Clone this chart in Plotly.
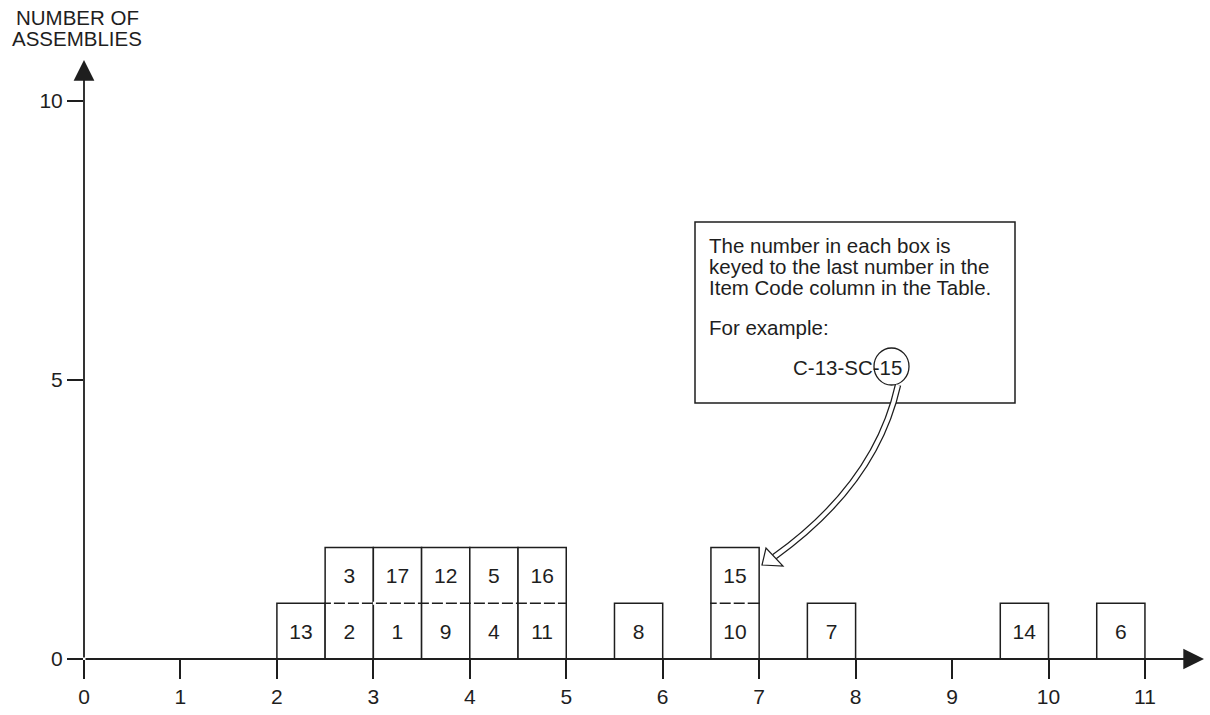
import plotly.graph_objects as go

# boxes: centre on x axis (each box is half a unit wide, one assembly tall)
lower_x = [2.25, 2.75, 3.25, 3.75, 4.25, 4.75, 5.75, 6.75, 7.75, 9.75, 10.75]
lower_labels = ['13', '2', '1', '9', '4', '11', '8', '10', '7', '14', '6']
upper_x = [2.75, 3.25, 3.75, 4.25, 4.75, 6.75]
upper_labels = ['3', '17', '12', '5', '16', '15']

x_ticks = list(range(0, 12))
y_ticks = [0, 5, 10]

note_lines = ['The number in each box is',
              'keyed to the last number in the',
              'Item Code column in the Table.',
              'For example:']

FONT = 'Liberation Sans, Arial, sans-serif'
INK = '#1e1e1e'
FS = 21

# layout geometry (pixels)
W, H = 1210, 715
ML, MR, MT, MB = 84, 6, 59, 56
XS = 96.45   # px per x unit
YS = 55.8    # px per y unit
X0 = ML
Y0 = H - MB
XMAX = (W - ML - MR) / XS
YMAX = (H - MT - MB) / YS


def dx(p):
    return (p - X0) / XS


def dy(p):
    return (Y0 - p) / YS


def paper_x(p):
    return (p - ML) / (W - ML - MR)


def paper_y(p):
    return (Y0 - p) / (H - MT - MB)


fig = go.Figure()
fig.add_trace(go.Bar(x=lower_x, y=[1] * len(lower_x), base=0, width=0.5,
                     text=lower_labels, textposition='inside', insidetextanchor='middle',
                     textangle=0, textfont=dict(size=FS, color=INK, family=FONT),
                     marker=dict(color='white', line=dict(color=INK, width=1.5)),
                     hoverinfo='skip'))
fig.add_trace(go.Bar(x=upper_x, y=[1] * len(upper_x), base=1, width=0.5,
                     text=upper_labels, textposition='inside', insidetextanchor='middle',
                     textangle=0, textfont=dict(size=FS, color=INK, family=FONT),
                     marker=dict(color='white', line=dict(color=INK, width=1.5)),
                     hoverinfo='skip'))

shapes = []
# dashed look of the shared edge between stacked boxes
for a, b in [(2.5, 5.0), (6.5, 7.0)]:
    shapes.append(dict(type='line', xref='x', yref='y', x0=a + 0.06, x1=b - 0.03, y0=1, y1=1,
                       line=dict(color='white', width=3, dash='3px,11px')))

# note box
shapes.append(dict(type='rect', xref='x', yref='y', x0=dx(695), x1=dx(1015), y0=dy(403), y1=dy(222),
                   line=dict(color=INK, width=1.5), fillcolor='rgba(0,0,0,0)'))
# circle around 15
shapes.append(dict(type='circle', xref='x', yref='y', x0=dx(874), x1=dx(909), y0=dy(385), y1=dy(348),
                   line=dict(color=INK, width=1.3)))

# hollow curved arrow from the circle to box 15
s, c, e = (898, 385), (876, 484), (774, 557)
path = 'M{},{} Q{},{} {},{}'.format(dx(s[0]), dy(s[1]), dx(c[0]), dy(c[1]), dx(e[0]), dy(e[1]))
shapes.append(dict(type='path', xref='x', yref='y', path=path, line=dict(color=INK, width=6.5)))
shapes.append(dict(type='path', xref='x', yref='y', path=path, line=dict(color='white', width=4)))
tip, w1, w2 = (762, 565), (766, 548), (783, 566)
head = 'M{},{} L{},{} L{},{} Z'.format(dx(tip[0]), dy(tip[1]), dx(w1[0]), dy(w1[1]), dx(w2[0]), dy(w2[1]))
shapes.append(dict(type='path', xref='x', yref='y', path=head, fillcolor='white',
                   line=dict(color=INK, width=1.2)))

annotations = []
# axis arrows
annotations.append(dict(x=dx(1204), y=0, ax=0, ay=0, xref='x', yref='y', axref='x', ayref='y',
                        text='', showarrow=True, arrowhead=2, arrowsize=2.3, arrowwidth=1.8,
                        arrowcolor=INK, standoff=0, startstandoff=0))
annotations.append(dict(x=0, y=dy(60), ax=0, ay=0, xref='x', yref='y', axref='x', ayref='y',
                        text='', showarrow=True, arrowhead=2, arrowsize=2.3, arrowwidth=1.8,
                        arrowcolor=INK, standoff=0, startstandoff=0))

# y axis title
for txt, py in [('NUMBER OF', 18), ('ASSEMBLIES', 39)]:
    annotations.append(dict(x=paper_x(77), y=paper_y(py), xref='paper', yref='paper',
                            text=txt, showarrow=False, xanchor='center', yanchor='middle',
                            font=dict(size=FS - 0.5, color=INK, family=FONT)))

# note text
for txt, py in zip(note_lines, [245, 266, 287, 327]):
    annotations.append(dict(x=paper_x(707), y=paper_y(py), xref='paper', yref='paper',
                            text=txt, showarrow=False, xanchor='left', yanchor='middle',
                            font=dict(size=20.5, color=INK, family=FONT)))
annotations.append(dict(x=paper_x(904), y=paper_y(367), xref='paper', yref='paper',
                        text='C-13-SC-15', showarrow=False, xanchor='right', yanchor='middle',
                        font=dict(size=20.5, color=INK, family=FONT)))

fig.update_layout(width=W, height=H, margin=dict(l=ML, r=MR, t=MT, b=MB, pad=0),
                  plot_bgcolor='white', paper_bgcolor='white', showlegend=False,
                  barmode='overlay', shapes=shapes, annotations=annotations,
                  font=dict(family=FONT, color=INK))
fig.update_xaxes(range=[0, XMAX], tickvals=x_ticks, ticks='outside', ticklen=19, tickwidth=1.5,
                 tickcolor=INK, showgrid=False, zeroline=False, showline=False,
                 tickfont=dict(size=FS, color=INK, family=FONT))
fig.update_yaxes(range=[0, YMAX], tickvals=y_ticks, ticks='outside', ticklen=16, tickwidth=1.5,
                 tickcolor=INK, showgrid=False, zeroline=False, showline=False,
                 tickfont=dict(size=FS, color=INK, family=FONT))

fig.write_html('out.html', config={'displayModeBar': False},
               post_script="document.body.style.margin='0px';")
